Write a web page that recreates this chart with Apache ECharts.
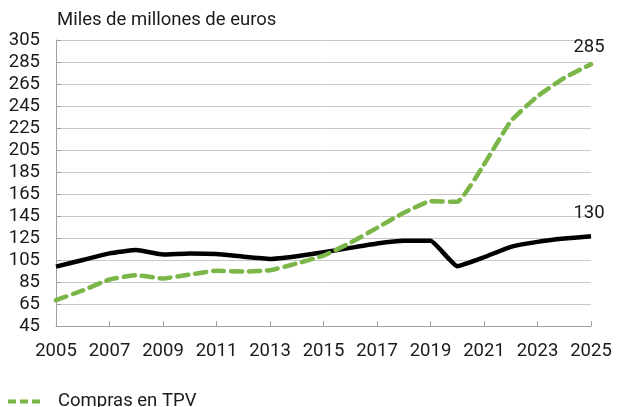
<!DOCTYPE html>
<html>
<head>
<meta charset="utf-8">
<script src="https://cdn.jsdelivr.net/npm/echarts@6/dist/echarts.min.js"></script>
<style>html,body{margin:0;padding:0;background:#fff}#c{width:621px;height:407px}</style>
</head>
<body>
<div id="c"></div>
<script>
const years = [2005,2006,2007,2008,2009,2010,2011,2012,2013,2014,2015,2016,2017,2018,2019,2020,2021,2022,2023,2024,2025];
const blackName = 'Compras totales con tarjeta';
const blackValues = [99,105,111,114,110,111,110.5,108,106,108.5,112,116,120,122.4,122.4,99.4,107.5,117,121.5,124.5,126.6];
const greenName = 'Compras en TPV';
const greenValues = [68.5,77.3,87.3,91.2,88.2,91.8,95.2,94.5,95.7,101.8,109,120.6,134.2,147.9,158.5,157.9,191.8,231.2,253.9,270.6,283];
const endLabels = [285, 130];
const yTicks = {min:45, max:305, interval:20};
const xTicks = {min:2005, max:2025, interval:2};

const font = 'Roboto';
const fs = 18.5;
function toData(vals, label, offsetY){
  return vals.map((v,i)=>{
    const d = {value:[years[i], v]};
    if(i === vals.length-1){
      d.label = {show:true, position:'top', offset:[-2, offsetY], formatter: ()=>String(label), color:'#1a1a1a', fontSize:fs, fontFamily:font};
    }
    return d;
  });
}
const chart = echarts.init(document.getElementById('c'), null, {renderer:'canvas'});
chart.setOption({
  animation:false,
  textStyle:{fontFamily:font},
  title:{text:'Miles de millones de euros', left:52, top:6, textStyle:{fontSize:fs, fontWeight:'normal', color:'#1a1a1a', fontFamily:font}},
  grid:{left:56, right:30, top:40, bottom:81},
  legend:{data:[greenName], left:3, top:387, itemWidth:32, itemHeight:4, itemGap:10,
    textStyle:{fontSize:fs, color:'#1a1a1a', fontFamily:font, padding:[0,0,0,13]},
    icon:'path://M0,0 L8,0 L8,4 L0,4 Z M12,0 L20,0 L20,4 L12,4 Z M24,0 L32,0 L32,4 L24,4 Z'},
  xAxis:{type:'value', min:xTicks.min, max:xTicks.max, interval:xTicks.interval,
    axisLine:{show:true, lineStyle:{color:'#a0a0a0', width:1}},
    axisTick:{show:true, inside:true, length:5, lineStyle:{color:'#a0a0a0'}},
    splitLine:{show:false},
    axisLabel:{formatter:v=>String(v), fontSize:fs, color:'#1a1a1a', margin:16, fontFamily:font}},
  yAxis:{type:'value', min:yTicks.min, max:yTicks.max, interval:yTicks.interval,
    axisLine:{show:true, lineStyle:{color:'#a0a0a0', width:1}},
    axisTick:{show:true, inside:true, length:5, lineStyle:{color:'#a0a0a0'}},
    splitLine:{show:true, lineStyle:{color:'#c8c8c8', width:1}},
    axisLabel:{fontSize:fs, color:'#1a1a1a', margin:16, fontFamily:font}},
  series:[
    {name:blackName, type:'line', data:toData(blackValues, endLabels[1], -8), showSymbol:true, symbol:'circle', symbolSize:0,
      lineStyle:{color:'#000', width:4.5, join:'round'}, itemStyle:{color:'#000'}, smooth:0.12},
    {name:greenName, type:'line', data:toData(greenValues, endLabels[0], -2), showSymbol:true, symbol:'circle', symbolSize:0,
      lineStyle:{color:'#7ab648', width:4.5, type:[11,7], cap:'round', join:'round'}, itemStyle:{color:'#7ab648'}, smooth:0.12}
  ]
});
</script>
</body>
</html>
